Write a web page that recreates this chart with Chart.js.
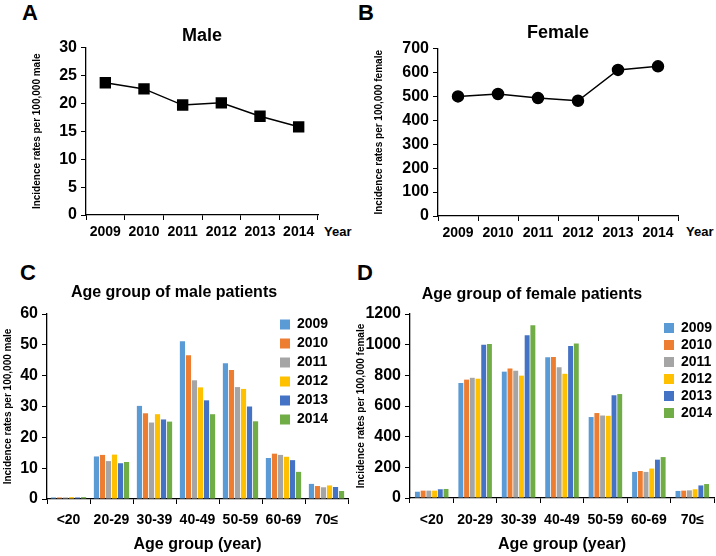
<!DOCTYPE html>
<html>
<head>
<meta charset="utf-8">
<script src="https://cdn.jsdelivr.net/npm/chart.js@4.4.1/dist/chart.umd.min.js"></script>
<style>
  body { margin: 0; background: #fff; }
  #wrap { position: relative; width: 716px; height: 556px; overflow: hidden; font-family: "Liberation Sans", Arial, sans-serif; }
  canvas { position: absolute; }
  .tag { position: absolute; font-weight: bold; font-size: 22px; line-height: 22px; }
  .yr { position: absolute; font-weight: bold; font-size: 13px; line-height: 14px; }
</style>
</head>
<body>
<div id="wrap">
  <div class="tag" style="left:22px; top:2px;">A</div>
  <div class="tag" style="left:358px; top:2px;">B</div>
  <div class="tag" style="left:20px; top:262px;">C</div>
  <div class="tag" style="left:357px; top:262px;">D</div>
  <div class="yr" style="left:324px; top:225px;">Year</div>
  <div class="yr" style="left:686px; top:225px;">Year</div>
  <canvas id="chartA" width="358" height="250" style="left:0; top:0;"></canvas>
  <canvas id="chartB" width="358" height="250" style="left:358px; top:0;"></canvas>
  <canvas id="chartC" width="354" height="306" style="left:0; top:250px;"></canvas>
  <canvas id="chartD" width="366" height="306" style="left:350px; top:250px;"></canvas>
</div>
<script>
// data
var years = ['2009', '2010', '2011', '2012', '2013', '2014'];
var maleRates = [23.7, 22.6, 19.7, 20.1, 17.7, 15.8];
var femaleRates = [500, 510, 493, 482, 611, 626];

var ageGroups = ['<20', '20-29', '30-39', '40-49', '50-59', '60-69', '70\u2264'];
// one row per year, 2009 .. 2014
var maleAgeRates = [
    [0.5, 13.8, 30.2, 51.2, 44.0, 13.3, 4.9],
    [0.5, 14.3, 27.8, 46.6, 41.8, 14.7, 4.2],
    [0.5, 12.3, 24.8, 38.5, 36.3, 14.3, 3.8],
    [0.6, 14.4, 27.5, 36.2, 35.7, 13.7, 4.4],
    [0.5, 11.6, 25.8, 32.0, 30.0, 12.6, 3.9],
    [0.6, 12.0, 25.1, 27.5, 25.2, 8.8, 2.6]
];
var femaleAgeRates = [
    [41, 750, 824, 918, 528, 170, 46],
    [48, 772, 844, 920, 554, 176, 48],
    [48, 784, 830, 852, 538, 170, 50],
    [48, 778, 798, 810, 536, 192, 57],
    [57, 1000, 1061, 992, 670, 250, 82],
    [59, 1004, 1126, 1008, 678, 267, 91]
];
var yearColors = ['#5B9BD5', '#ED7D31', '#A5A5A5', '#FFC000', '#4472C4', '#70AD47'];

Chart.defaults.font.family = '"Liberation Sans", Arial, sans-serif';
Chart.defaults.color = '#000';
Chart.defaults.animation = false;
Chart.defaults.responsive = false;
Chart.defaults.plugins.tooltip.enabled = false;

// puts the chartArea legend where the figure has it
var legendSpot = {
    id: 'legendSpot',
    afterLayout: function (chart, args, opts) {
        if (chart.legend) {
            chart.legend.left = opts.x;
            chart.legend.top = opts.y;
        }
    }
};

function fixW(w) { return function (s) { s.width = w; }; }
function fixH(h) { return function (s) { s.height = h; }; }
function plain(v) { return String(v); }

function lineChart(id, title, yTitle, values, max, step, shape, radius, cfg) {
    return new Chart(document.getElementById(id), {
        type: 'line',
        data: {
            labels: years,
            datasets: [{
                data: values,
                borderColor: '#000',
                borderWidth: 1.5,
                backgroundColor: '#000',
                pointStyle: shape,
                pointRadius: radius,
                pointBackgroundColor: '#000',
                tension: 0
            }]
        },
        options: {
            layout: { padding: { left: 0, right: cfg.right, top: 0, bottom: 0 } },
            plugins: {
                legend: { display: false },
                title: {
                    display: true, text: title, fullSize: false,
                    font: { size: 18, weight: 'bold' },
                    padding: { top: cfg.tTop, bottom: cfg.tBottom }
                }
            },
            scales: {
                x: {
                    offset: true,
                    afterFit: fixH(cfg.xh),
                    grid: { offset: true, drawOnChartArea: false, tickLength: 5, color: '#000' },
                    border: { color: '#000', width: 1.3 },
                    ticks: { font: { size: 14, weight: 'bold' }, padding: 4, maxRotation: 0 }
                },
                y: {
                    min: 0, max: max,
                    afterFit: fixW(cfg.yw),
                    grid: { drawOnChartArea: false, tickLength: 5, color: '#000' },
                    border: { color: '#000', width: 1.3 },
                    ticks: { stepSize: step, font: { size: 16, weight: 'bold' }, padding: 4, callback: plain },
                    title: {
                        display: true, text: yTitle,
                        font: { size: 10, weight: 'bold' },
                        padding: { top: cfg.yTitlePad, bottom: 0 }
                    }
                }
            }
        }
    });
}

function barChart(id, title, yTitle, rows, max, step, cfg) {
    var sets = rows.map(function (row, i) {
        return { label: years[i], data: row, backgroundColor: yearColors[i] };
    });
    return new Chart(document.getElementById(id), {
        type: 'bar',
        data: { labels: ageGroups, datasets: sets },
        plugins: [legendSpot],
        options: {
            datasets: { bar: { categoryPercentage: cfg.cat, barPercentage: 0.86 } },
            layout: { padding: { left: 0, right: cfg.right, top: 0, bottom: 0 } },
            plugins: {
                legend: {
                    position: 'chartArea',
                    labels: {
                        boxWidth: 10, boxHeight: 10, padding: cfg.lp,
                        font: { size: 14, weight: 'bold' }
                    }
                },
                legendSpot: { x: cfg.lx, y: cfg.ly },
                title: {
                    display: true, text: title,
                    font: { size: 16, weight: 'bold' },
                    padding: { top: cfg.tTop, bottom: cfg.tBottom }
                }
            },
            scales: {
                x: {
                    afterFit: fixH(cfg.xh),
                    grid: { offset: true, drawOnChartArea: false, tickLength: 5, color: '#000' },
                    border: { color: '#000', width: 1.3 },
                    ticks: { font: { size: 14, weight: 'bold' }, padding: cfg.xPad, maxRotation: 0 },
                    title: {
                        display: true, text: 'Age group (year)',
                        font: { size: 16, weight: 'bold' },
                        padding: { top: 0, bottom: 1.4 }
                    }
                },
                y: {
                    min: 0, max: max,
                    afterFit: fixW(cfg.yw),
                    grid: { drawOnChartArea: false, tickLength: 5, color: '#000' },
                    border: { color: '#000', width: 1.3 },
                    ticks: { stepSize: step, font: { size: 16, weight: 'bold' }, padding: 4, callback: plain },
                    title: {
                        display: true, text: yTitle,
                        font: { size: 10, weight: 'bold' },
                        padding: { top: cfg.yTitlePad, bottom: 0 }
                    }
                }
            }
        }
    });
}

lineChart('chartA', 'Male', 'Incidence rates per 100,000 male', maleRates, 30, 5, 'rect', 7,
    { right: 40, tTop: 25, tBottom: 1, xh: 35, yw: 86, yTitlePad: 31 });
lineChart('chartB', 'Female', 'Incidence rates per 100,000 female', femaleRates, 700, 100, 'circle', 5.5,
    { right: 38, tTop: 22, tBottom: 5, xh: 34, yw: 80, yTitlePad: 15 });

barChart('chartC', 'Age group of male patients', 'Incidence rates per 100,000 male', maleAgeRates, 60, 10,
    { cat: 0.84, right: 6, tTop: 33.4, tBottom: 11.4, xh: 57, yw: 47, xPad: 7.6, yTitlePad: 2,
      lp: 5, lx: 275, ly: 59 });
barChart('chartD', 'Age group of female patients', 'Incidence rates per 100,000 female', femaleAgeRates, 1200, 200,
    { cat: 0.79, right: 2, tTop: 35.4, tBottom: 9.4, xh: 58, yw: 60, xPad: 8.6, yTitlePad: 5,
      lp: 3, lx: 311, ly: 57 });
</script>
</body>
</html>
